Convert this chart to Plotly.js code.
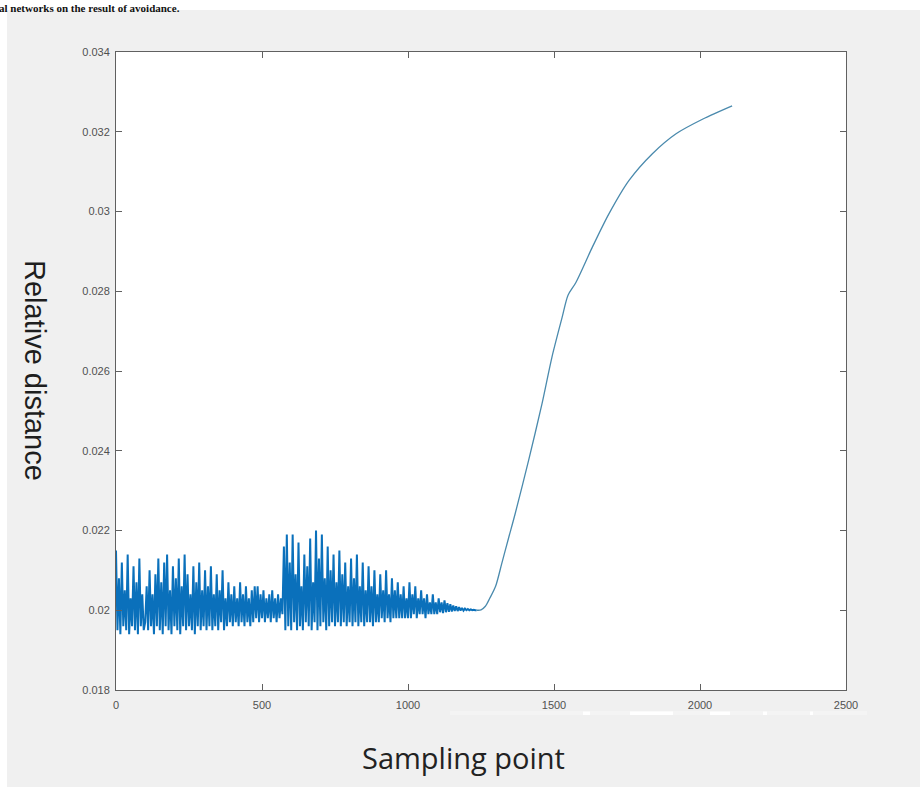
<!DOCTYPE html>
<html>
<head>
<meta charset="utf-8">
<script src="https://cdn.plot.ly/plotly-3.0.1.min.js"></script>
<style>
  html, body { margin: 0; padding: 0; background: #f0f0f0; }
  #chart { width: 920px; height: 787px; }
</style>
</head>
<body>
<div id="chart"></div>
<script>
// ---- Data ----
// Oscillating part: one value every 5 sampling points, starting at 0
const noiseStep = 5;
const noiseValues = [
  // 0-95
  0.0215, 0.0195, 0.0208, 0.0194, 0.0212, 0.0196, 0.0205, 0.0195, 0.0214, 0.0194,
  0.0203, 0.0196, 0.0211, 0.0195, 0.0207, 0.0194, 0.0213, 0.0196, 0.0204, 0.0195,
  // 100-295
  0.0197, 0.0206, 0.0195, 0.0210, 0.0196, 0.0204, 0.0194, 0.0209, 0.0196, 0.0213,
  0.0195, 0.0207, 0.0194, 0.0212, 0.0196, 0.0214, 0.0195, 0.0205, 0.0194, 0.0211,
  0.0196, 0.0208, 0.0195, 0.0213, 0.0194, 0.0206, 0.0196, 0.0214, 0.0195, 0.0209,
  0.0196, 0.0204, 0.0195, 0.0211, 0.0194, 0.0207, 0.0196, 0.0212, 0.0195, 0.0205,
  // 300-395
  0.0196, 0.0210, 0.0195, 0.0206, 0.0196, 0.0211, 0.0195, 0.0204, 0.0196, 0.0209,
  0.0195, 0.0205, 0.0197, 0.0210, 0.0195, 0.0203, 0.0196, 0.0207, 0.0197, 0.0204,
  // 400-475
  0.0196, 0.0206, 0.0197, 0.0203, 0.0196, 0.0207, 0.0197, 0.0204, 0.0196, 0.0206,
  0.0197, 0.0203, 0.0196, 0.0205, 0.0197, 0.0206,
  // 480-570
  0.0198, 0.0206, 0.0197, 0.0204, 0.0198, 0.0205, 0.0197, 0.0203, 0.0198, 0.0204,
  0.0197, 0.0205, 0.0198, 0.0203, 0.0197, 0.0204, 0.0198, 0.0203, 0.0199,
  // 575-800
  0.0216, 0.0195, 0.0219, 0.0196, 0.0212, 0.0195, 0.0219, 0.0197, 0.0209, 0.0195,
  0.0217, 0.0196, 0.0206, 0.0195, 0.0214, 0.0197, 0.0211, 0.0196, 0.0218, 0.0195,
  0.0207, 0.0197, 0.0220, 0.0195, 0.0213, 0.0196, 0.0219, 0.0197, 0.0208, 0.0195,
  0.0216, 0.0196, 0.0210, 0.0197, 0.0214, 0.0196, 0.0207, 0.0197, 0.0215, 0.0196,
  0.0209, 0.0197, 0.0212, 0.0196, 0.0206, 0.0197,
  // 805-1000
  0.0213, 0.0196, 0.0208, 0.0197, 0.0214, 0.0196, 0.0206, 0.0197, 0.0212, 0.0196,
  0.0205, 0.0197, 0.0211, 0.0197, 0.0206, 0.0196, 0.0210, 0.0197, 0.0204, 0.0197,
  0.0209, 0.0198, 0.0205, 0.0197, 0.0210, 0.0198, 0.0204, 0.0197, 0.0208, 0.0198,
  0.0205, 0.0198, 0.0207, 0.0198, 0.0204, 0.0198, 0.0206, 0.0198, 0.0203, 0.0198,
  // 1005-1235
  0.0207, 0.0198, 0.0204, 0.0199, 0.0206, 0.0198, 0.0203, 0.0199, 0.0205, 0.0199,
  0.0203, 0.0198, 0.0204, 0.0199, 0.0202, 0.0199, 0.0204, 0.0199, 0.0202, 0.0199,
  0.0203, 0.01995, 0.0202, 0.01993, 0.02025, 0.01995, 0.02018, 0.01996, 0.02015, 0.01997,
  0.02012, 0.01998, 0.0201, 0.01998, 0.02008, 0.01999, 0.02006, 0.01999, 0.02004, 0.0200,
  0.02003, 0.0200, 0.02002, 0.0200, 0.02001, 0.0200, 0.0200
];

// Smooth rising part
const curveX = [1240, 1250, 1265, 1280, 1300, 1321, 1344, 1367, 1413, 1459, 1493, 1528, 1548, 1575, 1631, 1688, 1757, 1837, 1918, 2010, 2110];
const curveY = [0.0200, 0.02001, 0.0201, 0.0203, 0.0206, 0.02117, 0.0218, 0.02242, 0.02376, 0.02518, 0.02635, 0.02735, 0.0279, 0.02822, 0.0291, 0.02994, 0.03078, 0.03145, 0.03195, 0.03232, 0.03265];

// Axis ticks
const xTickVals = [0, 500, 1000, 1500, 2000, 2500];
const xTickText = ['0', '500', '1000', '1500', '2000', '2500'];
const yTickVals = [0.018, 0.020, 0.022, 0.024, 0.026, 0.028, 0.030, 0.032, 0.034];
const yTickText = ['0.018', '0.02', '0.022', '0.024', '0.026', '0.028', '0.03', '0.032', '0.034'];

// ---- Chart ----
const noiseX = noiseValues.map((_, i) => i * noiseStep);

const traces = [
  {
    x: noiseX, y: noiseValues, type: 'scatter', mode: 'lines',
    line: { color: '#0a70bb', width: 2 }, hoverinfo: 'skip'
  },
  {
    x: [noiseX[noiseX.length - 1]].concat(curveX),
    y: [noiseValues[noiseValues.length - 1]].concat(curveY),
    type: 'scatter', mode: 'lines',
    line: { color: '#4a8aad', width: 1.3, shape: 'spline', smoothing: 0.8 }, hoverinfo: 'skip'
  }
];

// pixel helpers for placing decorations outside the plot area
const L = 116, R = 846, T = 52, B = 690;
const px = v => (v - L) / (R - L);
const py = v => (B - v) / (B - T);

const axisCommon = {
  showgrid: false, zeroline: false,
  showline: true, linecolor: '#606060', linewidth: 1, mirror: 'ticks',
  ticks: 'inside', ticklen: 6, tickwidth: 1, tickcolor: '#606060',
  tickfont: { family: 'Liberation Sans, Arial, sans-serif', size: 11, color: '#505050' },
  fixedrange: true
};

const smudges = [[583, 590], [630, 673], [710, 730], [763, 767], [810, 813]];

const shapes = [
  // white page strip on top and left of the grey panel
  { type: 'rect', xref: 'paper', yref: 'paper', x0: px(-20), x1: px(940), y0: py(10), y1: py(-20),
    fillcolor: '#ffffff', line: { width: 0 } },
  { type: 'rect', xref: 'paper', yref: 'paper', x0: px(-20), x1: px(7), y0: py(800), y1: py(-20),
    fillcolor: '#ffffff', line: { width: 0 } },
  // faint light band under the x tick labels
  { type: 'rect', xref: 'paper', yref: 'paper', x0: px(450), x1: px(867), y0: py(715), y1: py(711),
    fillcolor: '#f4f4f4', line: { width: 0 } }
].concat(smudges.map(s => ({
  type: 'rect', xref: 'paper', yref: 'paper', x0: px(s[0]), x1: px(s[1]), y0: py(715), y1: py(711.5),
  fillcolor: '#ffffff', line: { width: 0 }
})));

const layout = {
  width: 920, height: 787,
  margin: { l: L, r: 920 - R, t: T, b: 787 - B, pad: 0 },
  paper_bgcolor: '#f0f0f0', plot_bgcolor: '#ffffff',
  showlegend: false,
  xaxis: Object.assign({}, axisCommon, { range: [0, 2500], tickvals: xTickVals, ticktext: xTickText, ticklabelstandoff: 5 }),
  yaxis: Object.assign({}, axisCommon, { range: [0.018, 0.034], tickvals: yTickVals, ticktext: yTickText, ticklabelstandoff: 3 }),
  shapes: shapes,
  annotations: [
    { text: 'Relative distance', xref: 'paper', yref: 'paper', x: px(35), y: py(370),
      xanchor: 'center', yanchor: 'middle', textangle: 90, showarrow: false,
      font: { family: 'Liberation Sans, Arial, sans-serif', size: 29, color: '#1e1e1e' } },
    { text: 'Sampling point', xref: 'paper', yref: 'paper', x: px(463), y: py(758),
      xanchor: 'center', yanchor: 'middle', showarrow: false,
      font: { family: 'Open Sans, sans-serif', size: 29, color: '#222222' } },
    { text: 'al networks on the result of avoidance.', xref: 'paper', yref: 'paper', x: px(-2), y: py(0.5),
      xanchor: 'left', yanchor: 'top', showarrow: false, borderpad: 0,
      font: { family: 'Liberation Serif, Times New Roman, serif', size: 11, color: '#111111', weight: 'bold' } }
  ]
};

Plotly.newPlot('chart', traces, layout, { staticPlot: true, displayModeBar: false });
</script>
</body>
</html>
